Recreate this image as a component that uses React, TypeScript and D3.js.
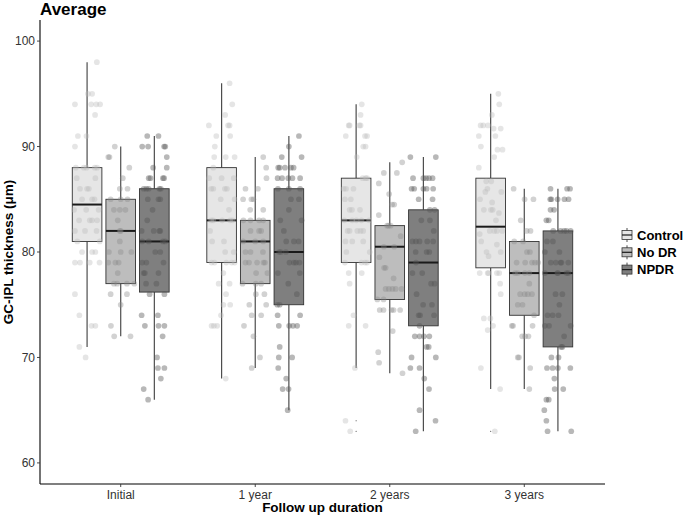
import React from "react";
import * as d3 from "d3";

const categories = ["Initial", "1 year", "2 years", "3 years"];
const groups = ["Control", "No DR", "NPDR"];
const yTicks = [60, 70, 80, 90, 100];

// box stats per group, by time point
const ctrlLow = [71, 68, 69, 67];
const ctrlQ1 = [81, 79, 79, 78.5];
const ctrlMed = [84.5, 83, 83, 82.4];
const ctrlQ3 = [88, 88, 87, 87];
const ctrlHigh = [98, 96, 94, 95];

const nodrLow = [72, 69, 68.5, 67];
const nodrQ1 = [77, 77, 75.5, 74];
const nodrMed = [82, 81, 80.5, 78];
const nodrQ3 = [85, 83, 82.5, 81];
const nodrHigh = [90, 89, 88.5, 86];

const npdrLow = [66, 65, 63, 63];
const npdrQ1 = [76.2, 75, 73, 71];
const npdrMed = [81, 80, 79, 78];
const npdrQ3 = [86, 86, 84, 82];
const npdrHigh = [91, 91, 89, 86];

const ctrlOutliers = [[], [], [64, 63], [63]];

// jittered observations: [value, jitter (fraction of box width)]
const ctrl0 = [[98,.33],[95,.03],[95,.17],[94,-.41],[94,.14],[94,.31],[94,.44],[93,.27],[91,-.31],[91,-.02],[90,-.41],[88,-.38],[88,-.11],[88,-.02],[88,.26],[88,.34],[87,-.35],[87,.28],[86,-.24],[86,0],[86,.06],[85,-.17],[85,.17],[85,.25],[84,-.44],[84,-.03],[84,.39],[83,-.27],[83,.09],[83,.17],[83,.34],[82,-.41],[82,-.07],[82,.32],[81,-.33],[81,.43],[80,-.17],[80,.17],[80,.28],[79,-.41],[79,-.24],[79,.09],[79,.42],[76,-.41],[74,-.26],[73,.15],[73,.28],[71,-.26],[70,-.05]];
const nodr0 = [[90,-.2],[89,-.42],[89,-.38],[88,.29],[87,.07],[86,-.03],[86,.23],[85,-.34],[85,0],[85,.23],[84,-.23],[84,-.03],[84,.16],[83,-.1],[82,-.03],[82,0],[81,-.03],[80,-.4],[80,0],[80,.36],[79,-.42],[79,-.18],[79,-.07],[78,-.1],[77,-.23],[77,-.12],[77,.21],[77,.46],[76,-.34],[76,.21],[75,0],[73,-.33],[72,-.22],[72,.33]];
const npdr0 = [[91,-.24],[91,.14],[90,-.41],[90,-.21],[90,.33],[90,.37],[89,.42],[88,-.04],[88,.42],[87,-.19],[87,-.13],[87,.29],[87,.33],[86,-.36],[86,-.27],[86,-.19],[86,.17],[86,.22],[85,-.22],[85,.14],[85,.2],[84,-.06],[83,-.24],[82,-.43],[82,-.02],[82,.17],[82,.2],[81,-.41],[81,-.19],[81,.29],[81,.37],[80,.03],[80,.2],[79,-.41],[79,-.27],[79,.31],[78,-.36],[78,-.32],[78,.14],[77,-.28],[77,.07],[76,-.16],[76,.34],[74,-.43],[74,.12],[73,-.32],[73,.14],[73,.34],[72,.28],[70,.09],[69,.12],[69,.34],[68,.22],[67,-.36],[66,-.21]];

const ctrl1 = [[96,.27],[94,.36],[93,.12],[92,-.43],[92,.22],[92,.27],[91,-.18],[91,.29],[90,-.23],[89,-.25],[89,.14],[89,.44],[88,-.28],[87,-.42],[87,0],[87,.41],[86,-.35],[86,-.28],[86,.11],[86,.18],[85,-.03],[85,.44],[84,.25],[83,-.35],[83,-.28],[83,.02],[83,.29],[83,.37],[82,-.39],[81,-.32],[81,.08],[80,.12],[80,.41],[79,-.34],[79,-.24],[79,.16],[79,.34],[79,.44],[78,.06],[77,-.1],[77,.27],[76,.15],[75,.06],[75,.29],[74,-.02],[73,-.34],[73,-.26],[73,-.15],[68,.14]];
const nodr1 = [[89,.27],[88,.37],[87,.38],[86,-.33],[86,.09],[85,-.41],[85,-.13],[85,-.06],[84,-.17],[84,.27],[83,-.4],[83,-.16],[83,.13],[83,.27],[82,-.16],[82,.13],[82,.2],[81,-.41],[81,0],[81,.27],[80,-.33],[80,-.16],[80,.26],[79,-.33],[79,-.21],[79,.06],[79,.28],[79,.33],[78,.03],[78,.41],[77,-.43],[77,.02],[77,.2],[76,.02],[76,.31],[75,-.2],[75,.37],[74,-.12],[74,.2],[73,-.38],[72,-.06],[70,.16],[69,-.12]];
const npdr1 = [[91,.34],[90,0],[89,-.24],[89,.43],[88,-.36],[88,-.31],[88,-.13],[88,.07],[88,.16],[87,-.38],[87,-.23],[87,-.02],[87,.12],[87,.38],[86,-.37],[86,0],[86,.38],[85,.07],[85,.34],[84,0],[83,-.29],[83,.43],[82,-.17],[81,-.09],[81,.17],[81,.33],[80,-.33],[80,-.27],[80,-.1],[79,.02],[79,.17],[79,.24],[79,.36],[78,-.37],[78,.37],[77,-.02],[76,.27],[75,-.39],[75,-.31],[74,-.38],[74,.38],[73,-.34],[73,.01],[73,.14],[73,.28],[71,-.31],[70,-.34],[70,.11],[69,-.36],[68,-.09],[67,-.21],[67,-.01],[65,-.04]];

const ctrl2 = [[94,.19],[93,.15],[92,-.25],[92,-.22],[92,.11],[92,.15],[91,-.35],[91,.3],[91,.37],[90,.24],[90,.32],[89,.02],[87,.22],[87,.32],[87,.37],[86,-.42],[86,-.34],[86,-.09],[85,-.38],[85,-.18],[84,-.22],[84,-.14],[84,.13],[83,-.4],[83,-.13],[83,.01],[83,.18],[83,.44],[82,-.29],[82,-.22],[82,.04],[82,.15],[82,.24],[81,-.36],[81,-.13],[81,.24],[80,-.33],[80,.46],[79,-.38],[79,.18],[79,.3],[79,.37],[78,-.25],[78,.19],[77,-.22],[74,-.09],[73,-.25],[73,.32],[69,-.04],[64,-.36],[63,-.2]];
const nodr2 = [[88.5,.42],[87.5,-.2],[87.5,.24],[86.5,-.37],[85.5,-.02],[84.5,.08],[84.5,.15],[83.5,-.37],[82.5,-.09],[82.5,-.04],[82.5,.03],[81.5,.37],[80.5,-.2],[80.5,.15],[79.5,-.35],[78.5,-.19],[78.5,-.14],[77.5,.13],[76.5,-.14],[76.5,-.03],[76.5,.09],[76.5,.2],[76.5,.4],[75.5,-.42],[75.5,-.21],[74.5,-.34],[74.5,-.21],[74.5,.06],[74.5,.13],[74.5,.35],[72.5,.1],[70.5,-.39],[69.5,-.36],[68.5,.43]];
const npdr2 = [[89,-.44],[89,.42],[87,-.35],[87,0],[87,.09],[87,.19],[87,.31],[86,-.4],[86,-.31],[86,0],[86,.11],[86,.33],[85,-.16],[85,.31],[84,.22],[84,.38],[83,-.07],[83,.22],[82,.35],[81,-.37],[81,-.25],[81,-.13],[81,.13],[81,.33],[80,-.26],[80,.11],[80,.2],[79,-.25],[78,-.37],[78,-.04],[77,.26],[77,.38],[76,-.23],[75,-.01],[75,.29],[74,-.16],[74,-.11],[74,.36],[73,-.13],[72,-.29],[72,-.13],[72,.02],[72,.2],[71,.11],[71,.18],[70,-.4],[70,.42],[69,-.44],[69,-.13],[68,.03],[67,.19],[65,-.13],[64,.41],[63,-.26]];

const ctrl3 = [[95,.26],[94,.29],[93,.04],[92,-.34],[92,-.25],[92,-.09],[91.7,.1],[91.7,.34],[91,-.4],[91,.16],[90,-.33],[89.7,.23],[89.7,.4],[89,.12],[88,-.4],[86.7,-.15],[86.7,.02],[86,-.11],[85.7,-.18],[85.7,.36],[85,-.36],[84.7,.05],[84,-.23],[84,.01],[84,.07],[83.7,.28],[83,.18],[82,-.03],[82,.12],[82,.21],[82,.39],[81.7,-.37],[81,-.32],[80.7,.21],[80,-.14],[80,.34],[79.6,-.07],[78,-.37],[78,-.1],[78,-.07],[78,.21],[78,.29],[77,.32],[76,.34],[73.7,-.23],[73.7,-.01],[73,.08],[72.6,-.1],[69,-.33],[67,.32],[63,.14]];
const nodr3 = [[86,-.36],[85,.01],[85,.31],[83,-.12],[82,.08],[82,.21],[81,-.34],[81,-.04],[80,.09],[80,.19],[79,-.26],[79,.03],[79,.26],[79,.36],[79,.47],[78,-.31],[78,-.22],[78,.02],[78,.17],[77,.17],[76,-.14],[76,.01],[76,.12],[76,.26],[75,-.22],[75,-.06],[74,.33],[73,-.42],[73,-.38],[73,.28],[72,-.07],[72,.03],[72,.14],[70,-.22],[70,-.18],[69,.2],[67,.17]];
const npdr3 = [[86,-.25],[86,.31],[86,.41],[85,-.26],[85,-.22],[85,-.01],[85,.22],[85,.36],[84,-.25],[84,-.13],[83,-.39],[83,-.31],[82,-.16],[82,.09],[82,.21],[82,.29],[82,.43],[81,-.37],[81,-.17],[80,-.44],[80,.05],[79,-.24],[79,-.07],[79,.09],[79,.12],[79,.35],[78,-.44],[78,-.02],[78,0],[78,.29],[78,.35],[76,-.08],[76,.15],[75,.05],[74,-.35],[74,-.18],[74,.02],[73,-.44],[73,-.3],[73,.43],[72,.21],[71,.11],[71,.15],[70,-.22],[70,.02],[69,-.37],[69,-.18],[69,0],[69,.42],[68,-.12],[67,-.11],[67,.18],[66,-.39],[66,-.31],[65,-.46],[64,-.39],[63,-.35],[63,.45]];

const boxFill = ["#e6e6e6", "#bdbdbd", "#7f7f7f"];
const ptFill = ["#bbbbbb", "#888888", "#555555"];
const ptOpacity = [0.38, 0.38, 0.42];

const W = 685;
const H = 516;
const left = 40, right = 605, top = 20, bottom = 484;

export default function App() {
  const x = d3.scalePoint<string>().domain(categories).range([left, right]).padding(0.6);
  const step = x.step();
  const dodge = d3.scaleBand<string>().domain(groups).range([-step * 0.375, step * 0.375]);
  const bw = dodge.bandwidth() * 0.88;
  const y = d3.scaleLinear().domain([58, 102]).range([bottom, top]);

  const stats = [
    [ctrlLow, ctrlQ1, ctrlMed, ctrlQ3, ctrlHigh],
    [nodrLow, nodrQ1, nodrMed, nodrQ3, nodrHigh],
    [npdrLow, npdrQ1, npdrMed, npdrQ3, npdrHigh],
  ];
  const pts = [
    [ctrl0, ctrl1, ctrl2, ctrl3],
    [nodr0, nodr1, nodr2, nodr3],
    [npdr0, npdr1, npdr2, npdr3],
  ];

  const cx = (ci: number, gi: number) =>
    (x(categories[ci]) as number) + (dodge(groups[gi]) as number) + dodge.bandwidth() / 2;

  const boxes: React.ReactNode[] = [];
  const points: React.ReactNode[] = [];
  categories.forEach((c, ci) => {
    groups.forEach((g, gi) => {
      const [lo, q1, md, q3, hi] = stats[gi].map((a) => a[ci]);
      const xc = cx(ci, gi);
      boxes.push(
        <g key={`b-${ci}-${gi}`}>
          <line x1={xc} x2={xc} y1={y(hi)} y2={y(q3)} stroke="#4d4d4d" strokeWidth={1.2} />
          <line x1={xc} x2={xc} y1={y(q1)} y2={y(lo)} stroke="#4d4d4d" strokeWidth={1.2} />
          <rect x={xc - bw / 2} y={y(q3)} width={bw} height={y(q1) - y(q3)} fill={boxFill[gi]} stroke="#333333" strokeWidth={0.9} />
          <line x1={xc - bw / 2} x2={xc + bw / 2} y1={y(md)} y2={y(md)} stroke="#1a1a1a" strokeWidth={2} />
          {gi === 0 && ctrlOutliers[ci].map((o, oi) => (
            <circle key={oi} cx={xc} cy={y(o)} r={0.6} fill="#444" />
          ))}
        </g>
      );
      pts[gi][ci].forEach(([v, j], pi) => {
        points.push(
          <circle key={`p-${ci}-${gi}-${pi}`} cx={xc + j * bw} cy={y(v)} r={2.85}
            fill={ptFill[gi]} fillOpacity={ptOpacity[gi]} />
        );
      });
    });
  });

  const font = "'Liberation Sans', Arial, sans-serif";

  return (
    <svg width={W} height={H} style={{ position: "absolute", left: 0, top: 0, background: "#fff" }} fontFamily={font}>
      <rect width={W} height={H} fill="#fff" />
      <text x={40} y={15} fontSize={17} fontWeight="bold" fill="#000">Average</text>
      {boxes}
      {points}
      {/* axes */}
      <line x1={left} x2={left} y1={top} y2={bottom} stroke="#000" strokeWidth={1.1} />
      <line x1={left} x2={right} y1={bottom} y2={bottom} stroke="#000" strokeWidth={1.1} />
      {yTicks.map((t) => (
        <g key={t}>
          <line x1={left - 3} x2={left} y1={y(t)} y2={y(t)} stroke="#333" strokeWidth={0.9} />
          <text x={left - 5} y={y(t)} dy="0.35em" textAnchor="end" fontSize={12} fill="#333">{t}</text>
        </g>
      ))}
      {categories.map((c) => (
        <g key={c}>
          <line x1={x(c)} x2={x(c)} y1={bottom} y2={bottom + 3} stroke="#333" strokeWidth={0.9} />
          <text x={x(c)} y={498.5} textAnchor="middle" fontSize={12} fill="#333">{c}</text>
        </g>
      ))}
      <text x={(left + right) / 2} y={512} textAnchor="middle" fontSize={13.5} fontWeight="bold" fill="#000">Follow up duration</text>
      <text transform={`translate(13, ${(top + bottom) / 2}) rotate(-90)`} textAnchor="middle" fontSize={13.5} fontWeight="bold" fill="#000">GC-IPL thickness (μm)</text>
      {/* legend */}
      {groups.map((g, gi) => {
        const ky = 235 + gi * 17.3;
        const kx = 627;
        return (
          <g key={g}>
            <line x1={kx} x2={kx} y1={ky - 7} y2={ky + 7} stroke="#4d4d4d" strokeWidth={1} />
            <rect x={kx - 5} y={ky - 4.5} width={10} height={9} fill={boxFill[gi]} stroke="#333" strokeWidth={0.8} />
            <line x1={kx - 5} x2={kx + 5} y1={ky} y2={ky} stroke="#1a1a1a" strokeWidth={1.2} />
            <text x={637} y={ky} dy="0.36em" fontSize={13} fontWeight="bold" fill="#000">{g}</text>
          </g>
        );
      })}
    </svg>
  );
}
